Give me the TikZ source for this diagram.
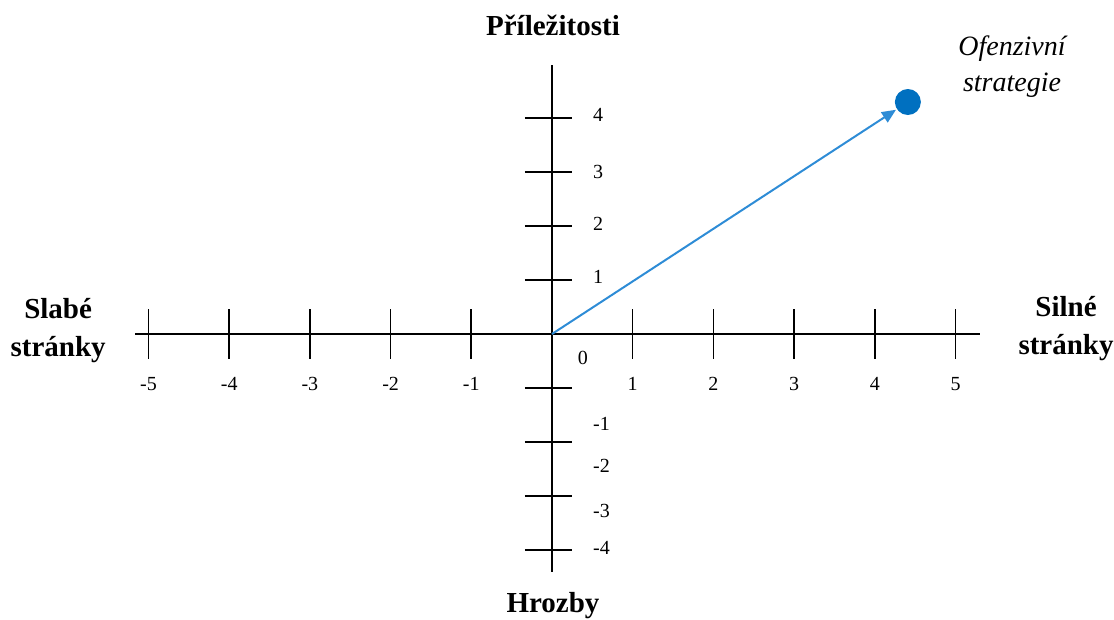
\documentclass[tikz,border=0pt]{standalone}
\usepackage{fontspec}
\setmainfont{Liberation Serif}
\usepackage{tikz}
\usetikzlibrary{arrows.meta, positioning}
\definecolor{dotBlue}{RGB}{0, 112, 192}
\definecolor{lineBlue}{RGB}{46, 140, 214}

\tikzset{
  axistitle/.style={font=\fontsize{29}{38}\selectfont\bfseries, align=center},
  ticklabel/.style={font=\fontsize{20}{24}\selectfont, inner sep=0pt},
  axisline/.style={line width=1.6pt, black},
}

\begin{document}
\begin{tikzpicture}[x=80.7pt, y=54pt]
    \useasboundingbox (-6.84,-5.278) rectangle (6.964,6.185);

    % --- osy ---
    \coordinate (o) at (0,0);
    \coordinate (xl) at (-5.167,0);
    \coordinate (xr) at (5.304,0);
    \coordinate (yt) at (0,4.98);
    \coordinate (yb) at (0,-4.407);
    \draw[axisline] (xl) -- (xr);
    \draw[axisline] (yb) -- (yt);

    % ticks na vodorovne ose
    \foreach \i in {-5,...,-1,1,2,...,5}
        \draw[axisline] (\i,-0.463) -- (\i,0.463)
            node[ticklabel, pos=0, yshift=-25pt] {\i};
    % ticks na svisle ose
    \foreach \j in {-4,...,-1,1,2,...,4}
        \draw[axisline] (-0.335,\j) -- (0.248,\j);

    % popisky svisle osy
    \foreach \j/\yy in {4/4.056, 3/3.0, 2/2.04, 1/1.056, -1/-1.667, -2/-2.444, -3/-3.278, -4/-3.963}
        \node[ticklabel, anchor=west] at (0.508,\yy) {\j};
    \node[ticklabel] (zero) at (0.384,-0.444) {0};

    % --- nazvy os ---
    \node[axistitle] (prilez) at (0.012,5.72) {Příležitosti};
    \node[axistitle] (hrozby) at (0.012,-5.02) {Hrozby};
    \node[axistitle] (slabe) at (-6.12,0.07) {Slabé\\stránky};
    \node[axistitle] (silne) at (6.37,0.11) {Silné\\stránky};

    % --- strategie ---
    \node[circle, fill=dotBlue, inner sep=0pt, minimum size=26pt] (dot) at (4.41,4.296) {};
    \draw[-{Triangle[length=14pt, width=12pt]}, line width=2pt, lineBlue, shorten >=1pt] (o) -- (dot);
    \node[font=\fontsize{28}{36}\selectfont\itshape, align=center] (ofenz) at (5.70,4.96) {Ofenzivní\\strategie};
\end{tikzpicture}
\end{document}
